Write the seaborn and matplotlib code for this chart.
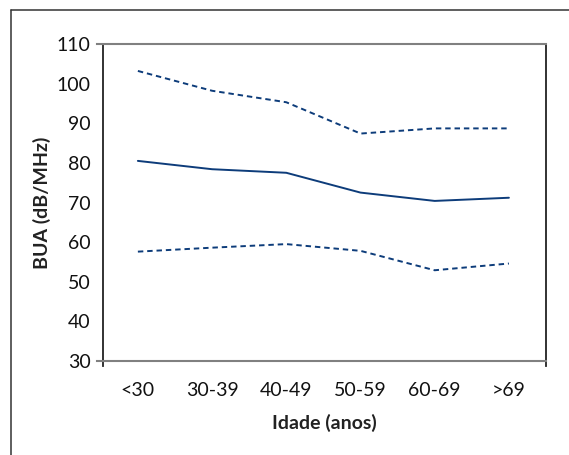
import numpy as np
import pandas as pd
import matplotlib as mpl
mpl.use("Agg")
import matplotlib.pyplot as plt
import seaborn as sns
from matplotlib.lines import Line2D

# data
idade = ["<30", "30-39", "40-49", "50-59", "60-69", ">69"]
media = [80.5, 78.4, 77.5, 72.5, 70.4, 71.2]
limite_sup = [103.2, 98.2, 95.3, 87.4, 88.7, 88.7]
limite_inf = [57.6, 58.6, 59.5, 57.8, 52.9, 54.6]

df = pd.DataFrame({
    "Idade": idade * 3,
    "BUA": media + limite_sup + limite_inf,
    "serie": ["media"] * 6 + ["sup"] * 6 + ["inf"] * 6,
})

sns.set_theme(style="white")
plt.rcParams["font.family"] = ["Lato", "DejaVu Sans"]

fig = plt.figure(figsize=(5.69, 4.55), dpi=100)
ax = fig.add_axes([103 / 569, 1 - 361 / 455, (546 - 103) / 569, (361 - 44) / 455])

navy = "#0d3c7a"
sns.lineplot(
    data=df, x="Idade", y="BUA", style="serie",
    dashes={"media": "", "sup": (2.8, 2.0), "inf": (2.8, 2.0)},
    color=navy, linewidth=1.4, sort=False, legend=False, ax=ax,
)

ax.set_xlim(-0.47, 5.5)
ax.set_ylim(30, 110)
ax.set_yticks(range(30, 111, 10))
ax.tick_params(axis="both", length=0, labelsize=14, colors="#111111")
ax.tick_params(axis="y", pad=9)
ax.tick_params(axis="x", pad=15)

ax.set_xlabel("Idade (anos)", fontsize=14, fontweight="bold", labelpad=11, color="#222222")
ax.set_ylabel("BUA (dB/MHz)", fontsize=14, fontweight="bold", labelpad=4, color="#222222")

for side in ["top", "bottom"]:
    ax.spines[side].set_color("#808080")
    ax.spines[side].set_linewidth(1.5)
    ax.spines[side].set_bounds(-0.55, 5.5)
for side in ["left", "right"]:
    ax.spines[side].set_color("#222222")
    ax.spines[side].set_linewidth(1.3)
    ax.spines[side].set_bounds(28.7, 110)

# outer frame, cut at the right and bottom edges
fx, fy = 11 / 569, 1 - 10 / 455
fig.add_artist(Line2D([fx, fx], [-0.1, fy], transform=fig.transFigure, color="#333333", lw=1.1))
fig.add_artist(Line2D([fx, 1.1], [fy, fy], transform=fig.transFigure, color="#333333", lw=1.1))

fig.savefig("out.png", dpi=100)
